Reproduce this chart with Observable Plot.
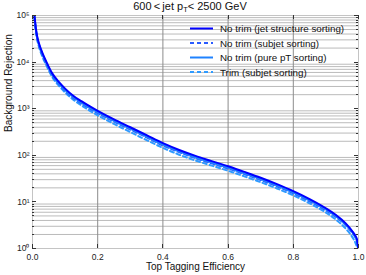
<!DOCTYPE html>
<html><head><meta charset="utf-8">
<script src="https://cdn.jsdelivr.net/npm/d3@7"></script>
<script src="https://cdn.jsdelivr.net/npm/@observablehq/plot@0.6"></script>
<style>body{margin:0;background:#fff;}</style>
</head><body><div id="chart"></div>
<script>
const efficiency = [0.003,0.006,0.01,0.015,0.02,0.03,0.043,0.06,0.08,0.1,0.125,0.15,0.175,0.2,0.25,0.3,0.35,0.4,0.45,0.5,0.55,0.6,0.65,0.7,0.75,0.8,0.85,0.9,0.93,0.96,0.98,0.99,0.995,1.0];
const noTrimJetStructure = [140000,100000,55000,34000,25000,16000,10000,5800,3800,2700,1900,1450,1130,900,590,400,270,182,130,97,75,58,44,33,24,17,11.5,7.3,5.3,3.5,2.4,1.9,1.6,0.9];
const noTrimSubjet = [130000,92000,50000,31000,22500,14300,9000,5250,3420,2430,1710,1300,1010,805,530,358,242,163,117,87,67,52,39.5,29.5,21.6,15.3,10.3,6.6,4.8,3.2,2.2,1.75,1.45,0.9];
const noTrimPurePt = [135000,95000,52000,32000,23500,15000,9400,5450,3550,2520,1780,1350,1055,840,550,372,252,170,121,90,70,54,41,30.8,22.4,15.9,10.8,6.9,5.0,3.3,2.3,1.8,1.5,0.9];
const trimSubjet = [125000,88000,47000,29000,21000,13200,8400,4850,3150,2230,1560,1180,910,720,470,315,212,144,103,77,60,46.5,35.3,26.5,19.4,13.8,9.3,5.9,4.2,2.7,1.8,1.35,1.1,0.8];

const seriesNames = ["No trim (jet structure sorting)","No trim (subjet sorting)","No trim (pure pT sorting)","Trim (subjet sorting)"];
const seriesValues = [noTrimJetStructure, noTrimSubjet, noTrimPurePt, trimSubjet];
const seriesColors = ["#0000ff","#2a5cff","#1f82ff","#2f9bff"];
const seriesDash = [null,"4,3",null,"4,3"];
const drawOrder = [3,1,2,0];

const xTicks = [0,0.2,0.4,0.6,0.8,1.0];
const xGrid = [0.2,0.4,0.6,0.8];
const yDecades = [1,10,100,1000,10000,100000];
const yMinor = [];
for (let k = 0; k < 5; k++) for (let m = 2; m <= 9; m++) yMinor.push(m * Math.pow(10, k));

const titleParts = ["600\u2009<\u2009jet p", "T", "< 2500 GeV"];
const xLabel = "Top Tagging Efficiency";
const yLabel = "Background Rejection";

const sup = {"0":"\u2070","1":"\u00b9","2":"\u00b2","3":"\u00b3","4":"\u2074","5":"\u2075"};
const font = "'Liberation Sans', Arial, Helvetica, sans-serif";

const lineMarks = drawOrder.map(i => {
  const data = efficiency.map((e, j) => ({e, v: seriesValues[i][j]}));
  return Plot.line(data, {x: "e", y: "v", stroke: seriesColors[i], strokeWidth: 2,
    strokeDasharray: seriesDash[i] || undefined, clip: true, curve: "monotone-x"});
});

const plot = Plot.plot({
  width: 366, height: 275,
  marginLeft: 32, marginRight: 8, marginTop: 15, marginBottom: 27,
  style: {fontFamily: font, fontSize: "8px", background: "#fff", color: "#222", overflow: "visible"},
  x: {domain: [0, 1]},
  y: {type: "log", domain: [1, 1e5]},
  marks: [
    Plot.ruleY(yMinor, {stroke: "#bbbbbb", strokeWidth: 1}),
    Plot.ruleX(xGrid, {stroke: "#8c8c8c", strokeWidth: 1}),
    Plot.frame({stroke: "#c4c4c4"}),
    Plot.axisX({ticks: xTicks, tickFormat: d => d.toFixed(1), tickSize: 0, tickPadding: 5, label: null, fontSize: 8.5}),
    Plot.axisY({ticks: yDecades, tickFormat: d => "10" + sup[String(Math.round(Math.log10(d)))], tickSize: 0, tickPadding: 3, label: null, fontSize: 8.5}),
    Plot.text([xLabel], {frameAnchor: "bottom", dy: 21, fontSize: 10, fill: "#111"}),
    Plot.text([yLabel], {frameAnchor: "left", rotate: -90, dx: -24, fontSize: 10, fill: "#111"}),
    ...lineMarks
  ]
});
document.getElementById("chart").appendChild(plot);

const svg = d3.select(plot);
const xs = plot.scale("x"), ys = plot.scale("y");
const x0 = xs.apply(0), x1 = xs.apply(1), y0 = ys.apply(1), y1 = ys.apply(1e5);
const tg = svg.append("g").attr("stroke", "#333").attr("stroke-width", 1);
xTicks.forEach(t => {
  const x = Math.round(xs.apply(t)) + 0.5;
  tg.append("line").attr("x1", x).attr("x2", x).attr("y1", y0).attr("y2", y0 - 4);
  tg.append("line").attr("x1", x).attr("x2", x).attr("y1", y1).attr("y2", y1 + 4);
});
yDecades.forEach(t => {
  const y = Math.round(ys.apply(t)) + 0.5;
  tg.append("line").attr("x1", x0).attr("x2", x0 + 4).attr("y1", y).attr("y2", y);
  tg.append("line").attr("x1", x1).attr("x2", x1 - 4).attr("y1", y).attr("y2", y);
});
yMinor.forEach(t => {
  const y = Math.round(ys.apply(t)) + 0.5;
  tg.append("line").attr("x1", x0).attr("x2", x0 + 2).attr("y1", y).attr("y2", y);
  tg.append("line").attr("x1", x1).attr("x2", x1 - 2).attr("y1", y).attr("y2", y);
});

const title = svg.append("text").attr("x", 190).attr("y", 9.5).attr("text-anchor", "middle")
  .attr("font-family", font).attr("font-size", 11).attr("fill", "#111");
title.append("tspan").text(titleParts[0]);
title.append("tspan").attr("font-size", 7.5).attr("dy", 2).text(titleParts[1]);
title.append("tspan").attr("dy", -2).text(titleParts[2]);

const lg = svg.append("g").attr("font-family", font).attr("font-size", 9.8).attr("text-anchor", "start");
seriesNames.forEach((name, i) => {
  const y = 28.5 + i * 14.5;
  lg.append("line").attr("x1", 190).attr("x2", 213).attr("y1", y).attr("y2", y)
    .attr("stroke", seriesColors[i]).attr("stroke-width", 2)
    .attr("stroke-dasharray", seriesDash[i]);
  lg.append("text").attr("x", 220).attr("y", y + 3.5).attr("fill", "#111").text(name);
});
</script>
</body></html>
